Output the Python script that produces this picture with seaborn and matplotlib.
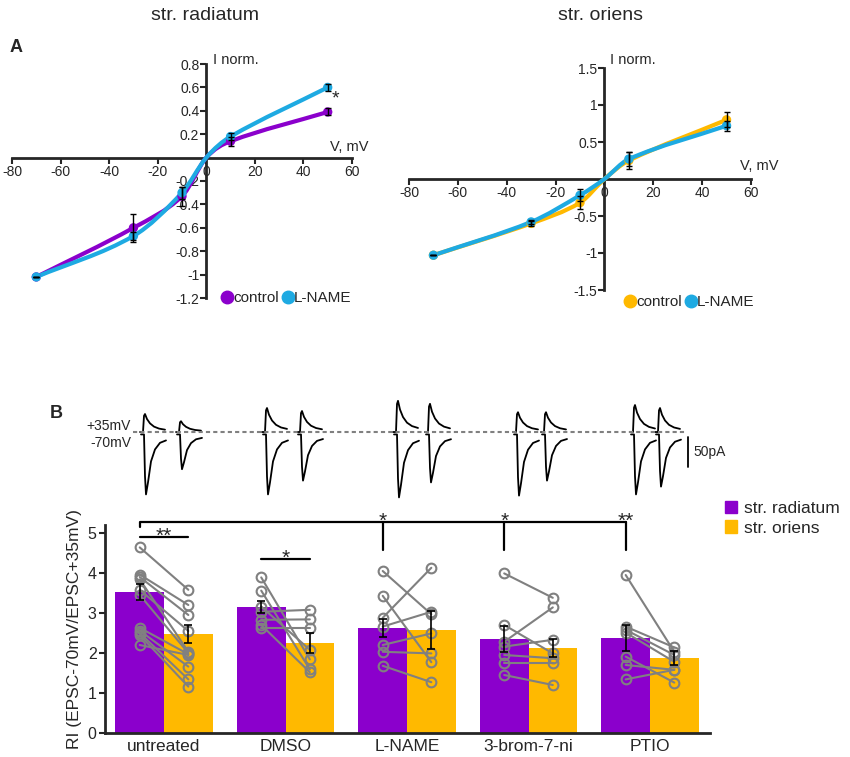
import numpy as np
import pandas as pd
import seaborn as sns
import matplotlib.pyplot as plt
from matplotlib.path import Path
from matplotlib.patches import PathPatch, Patch
from matplotlib.lines import Line2D

sns.set_style("ticks")
plt.rcParams['font.family'] = ['Liberation Sans', 'DejaVu Sans']

purple = "#8B00CC"
orange = "#FFB900"
cyan = "#1EAAE2"
grey = "#808080"

# --- A: normalised I-V curves ---
volts = [-70, -30, -10, 0, 10, 50]
rad_ctrl = [-1.02, -0.60, -0.33, 0.0, 0.14, 0.39]
rad_ctrl_err = [0.0, 0.12, 0.08, 0.0, 0.04, 0.03]
rad_lname = [-1.02, -0.67, -0.30, 0.0, 0.18, 0.60]
rad_lname_err = [0.0, 0.03, 0.05, 0.0, 0.03, 0.03]
ori_ctrl = [-1.03, -0.60, -0.32, 0.0, 0.25, 0.80]
ori_ctrl_err = [0.0, 0.03, 0.09, 0.0, 0.12, 0.10]
ori_lname = [-1.03, -0.58, -0.22, 0.0, 0.27, 0.72]
ori_lname_err = [0.0, 0.03, 0.08, 0.0, 0.10, 0.07]

# --- B: example traces (pA) ---
trace_up = [[30, 18], [40, 35], [52, 47], [33, 33], [45, 40]]
trace_down = [[100, 58], [100, 77], [105, 80], [102, 77], [100, 87]]
tmpl_t = [0, 3, 4, 5, 7, 10, 14, 19, 25]
tmpl_up = [0, 0, 0.9, 1.0, 0.72, 0.48, 0.30, 0.19, 0.13]
tmpl_down = [0, 0, 0.7, 1.0, 0.80, 0.45, 0.25, 0.14, 0.10]

# --- B: rectification index ---
conditions = ["untreated", "DMSO", "L-NAME", "3-brom-7-ni", "PTIO"]
ri_radiatum = [3.52, 3.15, 2.62, 2.35, 2.37]
ri_oriens = [2.47, 2.25, 2.57, 2.13, 1.87]
sem_radiatum = [0.20, 0.15, 0.23, 0.33, 0.33]
sem_oriens = [0.23, 0.25, 0.48, 0.22, 0.17]

cells_rad = [
    [4.64, 3.96, 3.90, 3.84, 3.58, 3.45, 2.63, 2.56, 2.50, 2.45, 2.20],
    [3.89, 3.56, 3.16, 3.03, 2.83, 2.70, 2.62],
    [4.05, 3.43, 2.88, 2.66, 2.20, 2.03, 1.68],
    [3.99, 2.70, 2.28, 2.16, 1.95, 1.74, 1.45],
    [3.95, 2.66, 2.58, 2.51, 1.91, 1.70, 1.34],
]
cells_ori = [
    [3.58, 3.20, 2.95, 2.03, 2.55, 2.00, 1.97, 1.66, 1.34, 1.16, 1.95],
    [1.84, 1.59, 2.08, 3.08, 2.84, 1.52, 2.62],
    [2.97, 1.77, 4.13, 3.03, 2.49, 1.99, 1.27],
    [3.38, 1.99, 3.14, 2.33, 1.87, 1.74, 1.20],
    [2.03, 2.14, 1.95, 1.78, 1.26, 1.58, 1.58],
]

W, H = 850, 757
def fx(px):
    return px / W
def fy(py):
    return 1 - py / H

fig = plt.figure(figsize=(8.5, 7.57), dpi=100)


def smooth_path(xs, ys):
    xs, ys = np.asarray(xs, float), np.asarray(ys, float)
    n = len(xs)
    m = np.empty(n)
    m[0] = (ys[1] - ys[0]) / (xs[1] - xs[0])
    m[-1] = (ys[-1] - ys[-2]) / (xs[-1] - xs[-2])
    m[1:-1] = (ys[2:] - ys[:-2]) / (xs[2:] - xs[:-2])
    verts = [(xs[0], ys[0])]
    codes = [Path.MOVETO]
    for i in range(n - 1):
        h = xs[i + 1] - xs[i]
        verts += [(xs[i] + h / 3, ys[i] + m[i] * h / 3),
                  (xs[i + 1] - h / 3, ys[i + 1] - m[i + 1] * h / 3),
                  (xs[i + 1], ys[i + 1])]
        codes += [Path.CURVE4] * 3
    return Path(verts, codes)


def iv_axes(rect, ylim, yticks, ctrl, ctrl_err, lname, lname_err, ctrl_col):
    ax = fig.add_axes(rect)
    ax.set_xlim(-80, 60)
    ax.set_ylim(*ylim)
    for s in ["top", "right"]:
        ax.spines[s].set_visible(False)
    ax.spines["left"].set_position("zero")
    ax.spines["bottom"].set_position("zero")
    for s in ["left", "bottom"]:
        ax.spines[s].set_linewidth(2)
    ax.set_xticks(range(-80, 61, 20))
    ax.set_xticklabels([str(v) for v in range(-80, 61, 20)])
    ax.set_yticks(yticks)
    ax.set_yticklabels([f"{v:g}" for v in yticks])
    ax.tick_params(width=1.5, length=4, labelsize=10, pad=1)
    for v, col, err in [(ctrl, ctrl_col, ctrl_err), (lname, cyan, lname_err)]:
        ax.add_patch(PathPatch(smooth_path(volts, v), fill=False, edgecolor=col,
                               lw=3, capstyle="round", zorder=3))
        pts = pd.DataFrame({"V": volts, "I": v, "e": err})
        pts = pts[pts.V != 0]
        sns.scatterplot(data=pts, x="V", y="I", color=col, s=45, edgecolor="none",
                        ax=ax, zorder=4, legend=False)
        ax.errorbar(pts.V, pts.I, yerr=pts.e, fmt="none", ecolor="k",
                    elinewidth=1, capsize=2, capthick=1, zorder=5)
    ax.set_xlabel("")
    ax.set_ylabel("")
    return ax


ax1 = iv_axes([fx(12), fy(298), 340 / W, 234 / H], (-1.2, 0.8),
              [-1.2, -1, -0.8, -0.6, -0.4, -0.2, 0.2, 0.4, 0.6, 0.8],
              rad_ctrl, rad_ctrl_err, rad_lname, rad_lname_err, purple)
ax2 = iv_axes([fx(409), fy(290), 342 / W, 222 / H], (-1.5, 1.5),
              [-1.5, -1, -0.5, 0.5, 1, 1.5],
              ori_ctrl, ori_ctrl_err, ori_lname, ori_lname_err, orange)
ax1.text(53, 0.5, "*", fontsize=14, ha="center", va="center")

fig.text(fx(205), fy(15), "str. radiatum", fontsize=14, ha="center", va="center")
fig.text(fx(600), fy(15), "str. oriens", fontsize=14, ha="center", va="center")
fig.text(fx(10), fy(47), "A", fontsize=13, fontweight="bold", ha="left", va="center")
fig.text(fx(50), fy(413), "B", fontsize=13, fontweight="bold", ha="left", va="center")
fig.text(fx(213), fy(60), "I norm.", fontsize=10.5, ha="left", va="center")
fig.text(fx(610), fy(60), "I norm.", fontsize=10.5, ha="left", va="center")
fig.text(fx(369), fy(147), "V, mV", fontsize=10.5, ha="right", va="center")
fig.text(fx(778), fy(166), "V, mV", fontsize=10.5, ha="right", va="center")

for cc, center in [(purple, 287), (orange, 690)]:
    handles = [Line2D([], [], marker="o", ls="", color=cc, markersize=9, label="control"),
               Line2D([], [], marker="o", ls="", color=cyan, markersize=9, label="L-NAME")]
    fig.legend(handles=handles, loc="center", ncol=2, frameon=False,
               bbox_to_anchor=(fx(center), fy(298 if center < 400 else 302)),
               handlelength=0.6, handletextpad=0.1, columnspacing=0.3, fontsize=11)

# --- traces ---
axt = fig.add_axes([fx(130), fy(500), 570 / W, 105 / H])
axt.set_xlim(0, 570)
axt.set_ylim(-113.3, 61.7)
axt.axis("off")
trace_x0 = [[10, 46], [132, 167], [263, 295], [383, 411], [500, 525]]
for i in range(5):
    for j in range(2):
        t = trace_x0[i][j] + np.array(tmpl_t)
        axt.plot(t, trace_up[i][j] * np.array(tmpl_up), color="k", lw=1.3, clip_on=False)
        axt.plot(t + 1, -4 - trace_down[i][j] * np.array(tmpl_down), color="k", lw=1.3,
                 clip_on=False)
axt.plot([3, 556], [0, 0], color=grey, lw=1.5, ls=(0, (2, 1.5)))
axt.plot([558, 558], [-8, -58], color="k", lw=1.3)
axt.text(563, -33, "50pA", fontsize=10, ha="left", va="center")
fig.text(fx(131), fy(426), "+35mV", fontsize=10, ha="right", va="center")
fig.text(fx(131), fy(443), "-70mV", fontsize=10, ha="right", va="center")

# --- bar chart ---
axb = fig.add_axes([fx(105), fy(733), 605 / W, 208 / H])
df = pd.DataFrame({
    "condition": conditions * 2,
    "region": ["str. radiatum"] * 5 + ["str. oriens"] * 5,
    "RI": ri_radiatum + ri_oriens,
})
sns.barplot(data=df, x="condition", y="RI", hue="region", palette=[purple, orange],
            errorbar=None, width=0.8, saturation=1, linewidth=0, ax=axb, legend=False)
xs = np.arange(5)
for i in range(5):
    for a, b in zip(cells_rad[i], cells_ori[i]):
        axb.plot([i - 0.2, i + 0.2], [a, b], color=grey, lw=1.5, marker="o", ms=7,
                 mfc="none", mec=grey, mew=1.5, zorder=4)
axb.errorbar(xs - 0.2, ri_radiatum, yerr=sem_radiatum, fmt="none", ecolor="k",
             elinewidth=1.2, capsize=3, capthick=1.2, zorder=6)
axb.errorbar(xs + 0.2, ri_oriens, yerr=sem_oriens, fmt="none", ecolor="k",
             elinewidth=1.2, capsize=3, capthick=1.2, zorder=6)
axb.set_xlim(-0.486, 4.494)
axb.set_ylim(0, 5.2)
axb.set_yticks(range(6))
axb.set_xlabel("")
axb.set_ylabel("RI (EPSC-70mV/EPSC+35mV)", fontsize=12.5, labelpad=4)
axb.tick_params(axis="y", labelsize=11.5, width=1.5, length=4, pad=2)
axb.tick_params(axis="x", labelsize=12.5, length=0, pad=4)
sns.despine(ax=axb)
for s in ["left", "bottom"]:
    axb.spines[s].set_linewidth(2)

# significance marks
kw = dict(color="k", lw=1.6, clip_on=False)
axb.plot([-0.2, -0.2, 3.8], [5.15, 5.27, 5.27], **kw)
for x in [1.8, 2.8, 3.8]:
    axb.plot([x, x], [5.27, 4.58], **kw)
axb.plot([-0.2, 0.2], [4.9, 4.9], **kw)
axb.plot([0.8, 1.2], [4.35, 4.35], **kw)
for x, y, s in [(0, 4.92, "**"), (1, 4.37, "*"), (1.8, 5.29, "*"), (2.8, 5.29, "*"),
                (3.8, 5.29, "**")]:
    axb.text(x, y, s, fontsize=15, ha="center", va="center", clip_on=False)

fig.legend(handles=[Patch(color=purple, label="str. radiatum"),
                    Patch(color=orange, label="str. oriens")],
           loc="upper left", bbox_to_anchor=(fx(718), fy(494)), frameon=False,
           fontsize=12.5, handlelength=0.7, handleheight=0.7, handletextpad=0.4,
           labelspacing=0.25, borderaxespad=0)

fig.savefig("out.png", dpi=100)
